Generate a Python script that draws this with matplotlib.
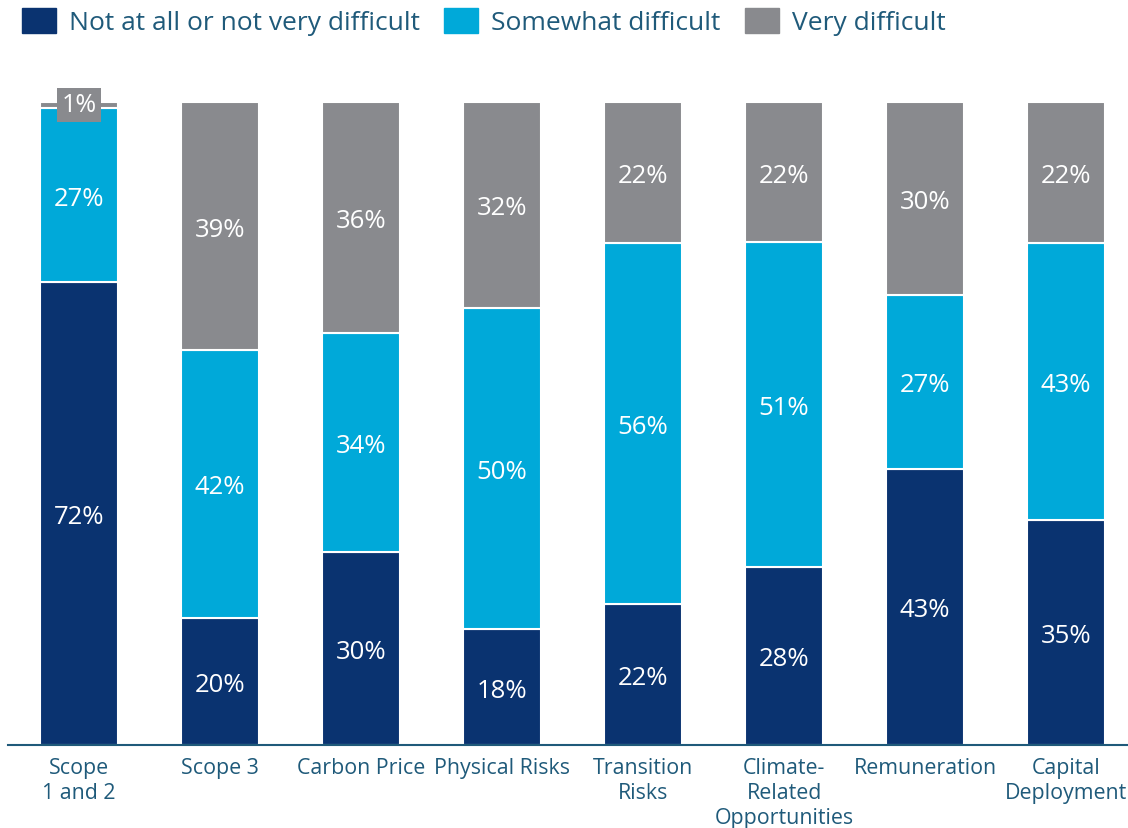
import numpy as np
import matplotlib.pyplot as plt
from matplotlib.patches import Rectangle

plt.rcParams['font.family'] = ['Open Sans', 'DejaVu Sans']

categories = ["Scope\n1 and 2", "Scope 3", "Carbon Price", "Physical Risks",
              "Transition\nRisks", "Climate-\nRelated\nOpportunities",
              "Remuneration", "Capital\nDeployment"]
series = ["Not at all or not very difficult", "Somewhat difficult", "Very difficult"]
not_difficult = [72, 20, 30, 18, 22, 28, 43, 35]
somewhat = [27, 42, 34, 50, 56, 51, 27, 43]
very = [1, 39, 36, 32, 22, 22, 30, 22]

colors = ["#0a3370", "#00a9d9", "#898a8e"]
text_col = "#1f5a7a"

fig = plt.figure(figsize=(11.28, 8.29), dpi=100)
ax = fig.add_axes([8 / 1128, (829 - 746) / 829, 1 - 8 / 1128, (746 - 103) / 829])

data = np.array([not_difficult, somewhat, very], dtype=float)
totals = data.sum(axis=0)
shares = data / totals * 100  # each bar fills to 100%
x = np.arange(len(categories))
width = 0.553

bottom = np.zeros(len(categories))
for k in range(3):
    ax.bar(x, shares[k], width, bottom=bottom, color=colors[k],
           edgecolor="white", linewidth=1.5)
    for i in range(len(categories)):
        v = data[k][i]
        yc = bottom[i] + shares[k][i] / 2
        if shares[k][i] < 5:
            # tiny segment: put the label in a box on top of it
            ax.text(x[i], bottom[i] + shares[k][i], f"{int(v)}%", ha="center",
                    va="center_baseline", color="white", fontsize=18, clip_on=False,
                    bbox=dict(boxstyle="square,pad=0.18", fc=colors[k], ec="none"))
        else:
            ax.text(x[i], yc, f"{int(v)}%", ha="center", va="center_baseline",
                    color="white", fontsize=18.5)
    bottom += shares[k]

ax.set_xlim(-0.504, 7.439)
ax.set_ylim(0, 100)
ax.set_yticks([])
ax.set_xticks(x)
ax.set_xticklabels(categories, fontsize=15.4, color=text_col, linespacing=1.25)
ax.tick_params(axis="x", length=0, pad=9)
for s in ["top", "right", "left"]:
    ax.spines[s].set_visible(False)
ax.spines["bottom"].set_color("#1f5a7a")
ax.spines["bottom"].set_linewidth(1.5)

# legend row across the top
leg_x = [22, 444, 745]
for lx, name, c in zip(leg_x, series, colors):
    fig.patches.append(Rectangle((lx / 1128, 1 - 34 / 829), 34 / 1128, 25 / 829,
                                 transform=fig.transFigure, color=c))
    fig.text((lx + 47) / 1128, 1 - 24 / 829, name, fontsize=19, color=text_col,
             va="center", ha="left")

fig.savefig("out.png", dpi=100)
